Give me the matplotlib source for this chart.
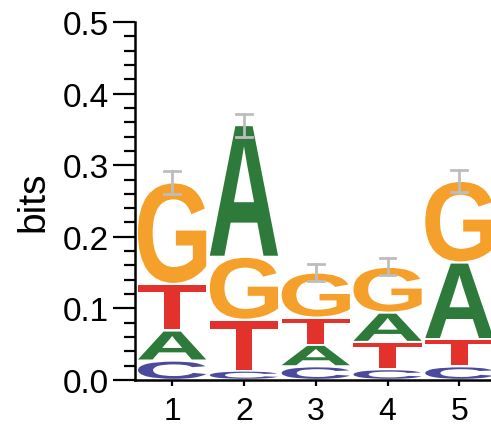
import numpy as np
import matplotlib
matplotlib.use("Agg")
import matplotlib.pyplot as plt
from matplotlib.textpath import TextPath
from matplotlib.patches import PathPatch
from matplotlib.font_manager import FontProperties
from matplotlib.transforms import Affine2D

positions = [1, 2, 3, 4, 5]
bases = ['A', 'C', 'G', 'T']
# information per base (bits) at each position
height_A = [0.042, 0.184, 0.030, 0.041, 0.107]
height_C = [0.027, 0.013, 0.019, 0.015, 0.019]
height_G = [0.142, 0.088, 0.063, 0.064, 0.114]
height_T = [0.065, 0.071, 0.038, 0.038, 0.038]
err = [0.016, 0.016, 0.012, 0.012, 0.015]
yticks = [0.0, 0.1, 0.2, 0.3, 0.4, 0.5]

colors = {'A': '#2e7a3a', 'C': '#4b4a9e', 'G': '#f5a02b', 'T': '#e3322c'}
heights = {'A': height_A, 'C': height_C, 'G': height_G, 'T': height_T}

plt.rcParams['font.family'] = ['Liberation Sans', 'DejaVu Sans']

fig = plt.figure(figsize=(4.91, 4.27), dpi=100)
ax = fig.add_axes([0.275, 0.108, 0.725, 0.838])

fp = FontProperties(family='Liberation Sans', weight='bold')
lw = 0.95  # letter width in data units


def draw_letter(ax, ch, x, y0, h):
    tp = TextPath((0, 0), ch, size=1, prop=fp)
    bb = tp.get_extents()
    pad = 0.0015
    hh = max(h - 2 * pad, 1e-4)
    t = (Affine2D().translate(-bb.x0, -bb.y0)
         .scale(lw / bb.width, hh / bb.height)
         .translate(x - lw / 2, y0 + pad))
    ax.add_patch(PathPatch(t.transform_path(tp), fc=colors[ch], ec='none'))


for i, x in enumerate(positions):
    stack = sorted(bases, key=lambda b: heights[b][i])
    y = 0.0
    for b in stack:
        h = heights[b][i]
        draw_letter(ax, b, x, y, h)
        y += h
    # error bar at the top of the stack
    ax.plot([x, x], [y - err[i], y + err[i]], color='#bdbdbd', lw=2, zorder=5)
    for yy in (y - err[i], y + err[i]):
        ax.plot([x - 0.11, x + 0.11], [yy, yy], color='#bdbdbd', lw=2, zorder=5)

ax.set_xlim(0.484, 5.44)
ax.set_ylim(0, 0.5)
ax.spines['top'].set_visible(False)
ax.spines['right'].set_visible(False)
ax.spines['left'].set_linewidth(1.8)
ax.spines['bottom'].set_linewidth(1.8)

ax.set_xticks(positions)
ax.set_xticklabels([str(p) for p in positions])
ax.set_yticks(yticks)
ax.set_yticklabels(['%.1f' % v for v in yticks])
ax.set_yticks(np.arange(0, 0.5001, 0.02), minor=True)
ax.tick_params(axis='y', which='major', length=16, width=1.6, labelsize=24, pad=3)
ax.tick_params(axis='y', which='minor', length=8, width=1.6)
ax.tick_params(axis='x', which='major', length=4.5, width=1.6, labelsize=23, pad=7)
ax.set_ylabel('bits', fontsize=28, labelpad=8)

fig.savefig('out.png', dpi=100)
